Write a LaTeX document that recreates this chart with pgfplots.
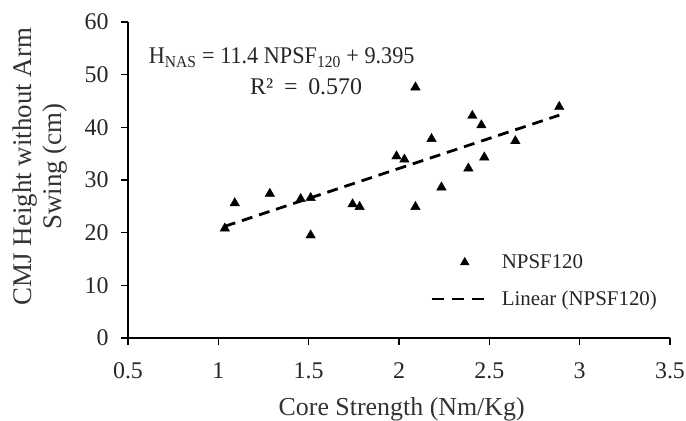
\documentclass[border=0pt]{standalone}
\usepackage{pgfplots}
\pgfplotsset{compat=1.18}
\usepackage{fontspec}
\usepackage{graphicx}
\setmainfont{Liberation Serif}
\usetikzlibrary{calc}
\begin{document}
\begin{tikzpicture}[x=1bp,y=1bp]
\begin{axis}[name=ax,
  scale only axis, width=542bp, height=316bp,
  xmin=0.5, xmax=3.5, ymin=0, ymax=60,
  axis lines=left, axis line style={-, line width=1.3pt},
  xtick={0.5,1,1.5,2,2.5,3,3.5}, ytick={0,10,...,60},
  xticklabels={0.5,1,1.5,2,2.5,3,3.5},
  tick align=outside, major tick length=7bp, tick style={line width=1.3pt, black},
  font=\fontsize{24}{26}\selectfont,
  /pgf/number format/assume math mode=true,
  yticklabel style={xshift=-9bp},
  xticklabel style={yshift=-14bp},
  xlabel={Core Strength (Nm/Kg)},
  ylabel={CMJ Height without Arm\\Swing (cm)},
  ylabel style={align=center, text=black!80, font=\fontsize{27}{30}\selectfont,
     at={(rel axis cs:-0.163,0.543)}, anchor=center},
  xlabel style={text=black!80, font=\fontsize{26}{28}\selectfont,
     at={(rel axis cs:0.505,-0.245)}, anchor=base},
  ticklabel style={text=black!85},
  legend style={draw=none, fill=none, at={(rel axis cs:0.552,0.277)}, anchor=north west,
     font=\fontsize{21}{23}\selectfont, row sep=17bp, text=black!85},
  legend cell align=left,
  clip=false,
]
\addplot[only marks, mark=triangle*, mark size=5.5bp, black,
  legend image code/.code={\path[draw=none,fill=none] (0bp,0bp) -- (68bp,0bp);
     \pgfsetfillcolor{black}\pgfsetstrokecolor{black}
     \pgftransformshift{\pgfpoint{33bp}{0bp}}\def\pgfplotmarksize{5bp}\pgfuseplotmark{triangle*}}] coordinates {
(1.036,20.8) (1.091,25.6) (1.285,27.4) (1.456,26.4) (1.511,26.6) (1.511,19.5)
(1.743,25.4) (1.782,24.9) (1.986,34.5) (2.030,33.9) (2.091,24.9) (2.091,47.6)
(2.180,37.8) (2.235,28.6) (2.384,32.2) (2.406,42.2) (2.456,40.4) (2.472,34.3)
(2.644,37.4) (2.887,43.9)
};
\addlegendentry{NPSF120}
\addplot[black, line width=2.8bp, dash pattern=on 11bp off 7bp,
  legend image code/.code={\path[draw=none] (0bp,0bp) -- (68bp,0bp); \draw[black, line width=2.8bp, dash pattern=on 12bp off 8bp] (0bp,0bp) -- (56bp,0bp);}] coordinates {
(1.036,21.205) (2.887,42.307)
};
\addlegendentry{Linear (NPSF120)}
\node[font=\fontsize{24}{26}\selectfont, text=black!85] at (axis cs:1.351,53.2) {\scalebox{0.93}[1]{H\textsubscript{NAS} = 11.4 NPSF\textsubscript{120} + 9.395}};
\node[font=\fontsize{24}{26}\selectfont, text=black!85] at (axis cs:1.486,47.7) {R²\hspace{0.45em}=\hspace{0.45em}0.570};
\end{axis}
\pgfresetboundingbox
\path[use as bounding box] ($(ax.south west)+(-128bp,-83bp)$) rectangle ($(ax.north east)+(16bp,22bp)$);
\end{tikzpicture}
\end{document}
